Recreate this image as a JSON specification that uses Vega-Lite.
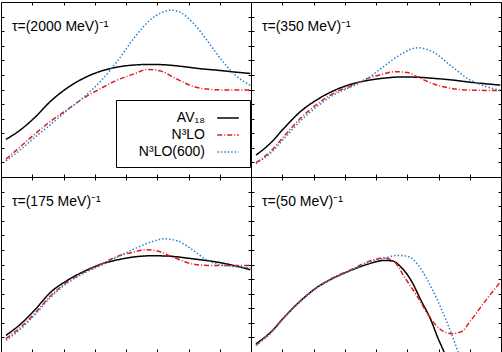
{
  "$schema": "https://vega.github.io/schema/vega-lite/v6.json",
  "background": "white",
  "padding": {"left": 0, "top": 1, "right": 2, "bottom": 1},
  "spacing": 0,
  "bounds": "flush",
  "columns": 2,
  "datasets": {
    "d": [
      {"p":1,"s":"AV₁₈","x":0.16,"y":1.29},{"p":1,"s":"AV₁₈","x":0.64,"y":1.63},{"p":1,"s":"AV₁₈","x":1.07,"y":2.03},{"p":1,"s":"AV₁₈","x":1.6,"y":2.61},{"p":1,"s":"AV₁₈","x":2.13,"y":3.06},{"p":1,"s":"AV₁₈","x":2.67,"y":3.4},{"p":1,"s":"AV₁₈","x":3.2,"y":3.63},{"p":1,"s":"AV₁₈","x":3.73,"y":3.77},{"p":1,"s":"AV₁₈","x":4.27,"y":3.84},{"p":1,"s":"AV₁₈","x":4.8,"y":3.86},{"p":1,"s":"AV₁₈","x":5.33,"y":3.84},{"p":1,"s":"AV₁₈","x":5.87,"y":3.78},{"p":1,"s":"AV₁₈","x":6.4,"y":3.71},{"p":1,"s":"AV₁₈","x":6.93,"y":3.66},{"p":1,"s":"AV₁₈","x":7.47,"y":3.6},{"p":1,"s":"AV₁₈","x":7.98,"y":3.55},
      {"p":1,"s":"N³LO","x":0.16,"y":0.61},{"p":1,"s":"N³LO","x":0.64,"y":1.06},{"p":1,"s":"N³LO","x":1.07,"y":1.46},{"p":1,"s":"N³LO","x":1.6,"y":1.92},{"p":1,"s":"N³LO","x":2.13,"y":2.32},{"p":1,"s":"N³LO","x":2.67,"y":2.72},{"p":1,"s":"N³LO","x":3.2,"y":3.04},{"p":1,"s":"N³LO","x":3.73,"y":3.33},{"p":1,"s":"N³LO","x":4.27,"y":3.54},{"p":1,"s":"N³LO","x":4.69,"y":3.69},{"p":1,"s":"N³LO","x":5.12,"y":3.63},{"p":1,"s":"N³LO","x":5.55,"y":3.4},{"p":1,"s":"N³LO","x":5.97,"y":3.18},{"p":1,"s":"N³LO","x":6.4,"y":3.04},{"p":1,"s":"N³LO","x":6.93,"y":2.99},{"p":1,"s":"N³LO","x":7.47,"y":2.98},{"p":1,"s":"N³LO","x":7.98,"y":2.98},
      {"p":1,"s":"N³LO(600)","x":0.16,"y":0.55},{"p":1,"s":"N³LO(600)","x":0.64,"y":0.95},{"p":1,"s":"N³LO(600)","x":1.07,"y":1.35},{"p":1,"s":"N³LO(600)","x":1.6,"y":1.81},{"p":1,"s":"N³LO(600)","x":2.13,"y":2.3},{"p":1,"s":"N³LO(600)","x":2.67,"y":2.76},{"p":1,"s":"N³LO(600)","x":3.2,"y":3.3},{"p":1,"s":"N³LO(600)","x":3.73,"y":3.98},{"p":1,"s":"N³LO(600)","x":4.27,"y":4.78},{"p":1,"s":"N³LO(600)","x":4.8,"y":5.41},{"p":1,"s":"N³LO(600)","x":5.12,"y":5.63},{"p":1,"s":"N³LO(600)","x":5.44,"y":5.72},{"p":1,"s":"N³LO(600)","x":5.76,"y":5.63},{"p":1,"s":"N³LO(600)","x":6.19,"y":5.23},{"p":1,"s":"N³LO(600)","x":6.61,"y":4.66},{"p":1,"s":"N³LO(600)","x":7.04,"y":4.04},{"p":1,"s":"N³LO(600)","x":7.47,"y":3.52},{"p":1,"s":"N³LO(600)","x":7.98,"y":3.14},

      {"p":2,"s":"AV₁₈","x":0.16,"y":0.75},{"p":2,"s":"AV₁₈","x":0.64,"y":1.18},{"p":2,"s":"AV₁₈","x":1.07,"y":1.69},{"p":2,"s":"AV₁₈","x":1.6,"y":2.26},{"p":2,"s":"AV₁₈","x":2.13,"y":2.66},{"p":2,"s":"AV₁₈","x":2.67,"y":2.97},{"p":2,"s":"AV₁₈","x":3.2,"y":3.18},{"p":2,"s":"AV₁₈","x":3.73,"y":3.31},{"p":2,"s":"AV₁₈","x":4.27,"y":3.39},{"p":2,"s":"AV₁₈","x":4.8,"y":3.43},{"p":2,"s":"AV₁₈","x":5.33,"y":3.42},{"p":2,"s":"AV₁₈","x":5.87,"y":3.38},{"p":2,"s":"AV₁₈","x":6.4,"y":3.33},{"p":2,"s":"AV₁₈","x":6.93,"y":3.26},{"p":2,"s":"AV₁₈","x":7.47,"y":3.2},{"p":2,"s":"AV₁₈","x":7.98,"y":3.15},
      {"p":2,"s":"N³LO","x":0.16,"y":0.49},{"p":2,"s":"N³LO","x":0.64,"y":0.89},{"p":2,"s":"N³LO","x":1.07,"y":1.41},{"p":2,"s":"N³LO","x":1.6,"y":2.03},{"p":2,"s":"N³LO","x":2.13,"y":2.51},{"p":2,"s":"N³LO","x":2.67,"y":2.89},{"p":2,"s":"N³LO","x":3.2,"y":3.12},{"p":2,"s":"N³LO","x":3.73,"y":3.38},{"p":2,"s":"N³LO","x":4.27,"y":3.54},{"p":2,"s":"N³LO","x":4.59,"y":3.61},{"p":2,"s":"N³LO","x":5.01,"y":3.58},{"p":2,"s":"N³LO","x":5.33,"y":3.43},{"p":2,"s":"N³LO","x":5.87,"y":3.18},{"p":2,"s":"N³LO","x":6.4,"y":3.04},{"p":2,"s":"N³LO","x":6.93,"y":2.98},{"p":2,"s":"N³LO","x":7.47,"y":2.97},{"p":2,"s":"N³LO","x":7.98,"y":2.97},
      {"p":2,"s":"N³LO(600)","x":0.16,"y":0.46},{"p":2,"s":"N³LO(600)","x":0.64,"y":0.83},{"p":2,"s":"N³LO(600)","x":1.07,"y":1.33},{"p":2,"s":"N³LO(600)","x":1.6,"y":1.94},{"p":2,"s":"N³LO(600)","x":2.13,"y":2.43},{"p":2,"s":"N³LO(600)","x":2.67,"y":2.83},{"p":2,"s":"N³LO(600)","x":3.2,"y":3.09},{"p":2,"s":"N³LO(600)","x":3.73,"y":3.38},{"p":2,"s":"N³LO(600)","x":4.27,"y":3.81},{"p":2,"s":"N³LO(600)","x":4.8,"y":4.21},{"p":2,"s":"N³LO(600)","x":5.33,"y":4.43},{"p":2,"s":"N³LO(600)","x":5.87,"y":4.26},{"p":2,"s":"N³LO(600)","x":6.4,"y":3.81},{"p":2,"s":"N³LO(600)","x":6.93,"y":3.38},{"p":2,"s":"N³LO(600)","x":7.47,"y":3.12},{"p":2,"s":"N³LO(600)","x":7.98,"y":2.97},

      {"p":3,"s":"AV₁₈","x":0.16,"y":0.57},{"p":3,"s":"AV₁₈","x":0.64,"y":0.97},{"p":3,"s":"AV₁₈","x":1.07,"y":1.43},{"p":3,"s":"AV₁₈","x":1.6,"y":2.06},{"p":3,"s":"AV₁₈","x":2.13,"y":2.46},{"p":3,"s":"AV₁₈","x":2.67,"y":2.77},{"p":3,"s":"AV₁₈","x":3.2,"y":3.01},{"p":3,"s":"AV₁₈","x":3.73,"y":3.16},{"p":3,"s":"AV₁₈","x":4.27,"y":3.26},{"p":3,"s":"AV₁₈","x":4.8,"y":3.3},{"p":3,"s":"AV₁₈","x":5.33,"y":3.29},{"p":3,"s":"AV₁₈","x":5.87,"y":3.23},{"p":3,"s":"AV₁₈","x":6.4,"y":3.16},{"p":3,"s":"AV₁₈","x":6.93,"y":3.08},{"p":3,"s":"AV₁₈","x":7.47,"y":2.96},{"p":3,"s":"AV₁₈","x":7.98,"y":2.82},
      {"p":3,"s":"N³LO","x":0.16,"y":0.46},{"p":3,"s":"N³LO","x":0.64,"y":0.86},{"p":3,"s":"N³LO","x":1.07,"y":1.31},{"p":3,"s":"N³LO","x":1.6,"y":1.94},{"p":3,"s":"N³LO","x":2.13,"y":2.4},{"p":3,"s":"N³LO","x":2.67,"y":2.74},{"p":3,"s":"N³LO","x":3.2,"y":3.01},{"p":3,"s":"N³LO","x":3.73,"y":3.28},{"p":3,"s":"N³LO","x":4.27,"y":3.43},{"p":3,"s":"N³LO","x":4.59,"y":3.51},{"p":3,"s":"N³LO","x":5.01,"y":3.46},{"p":3,"s":"N³LO","x":5.55,"y":3.23},{"p":3,"s":"N³LO","x":6.08,"y":3.03},{"p":3,"s":"N³LO","x":6.61,"y":2.97},{"p":3,"s":"N³LO","x":7.15,"y":2.97},{"p":3,"s":"N³LO","x":7.98,"y":2.97},
      {"p":3,"s":"N³LO(600)","x":0.16,"y":0.4},{"p":3,"s":"N³LO(600)","x":0.64,"y":0.8},{"p":3,"s":"N³LO(600)","x":1.07,"y":1.26},{"p":3,"s":"N³LO(600)","x":1.6,"y":1.89},{"p":3,"s":"N³LO(600)","x":2.13,"y":2.37},{"p":3,"s":"N³LO(600)","x":2.67,"y":2.71},{"p":3,"s":"N³LO(600)","x":3.2,"y":2.97},{"p":3,"s":"N³LO(600)","x":3.73,"y":3.26},{"p":3,"s":"N³LO(600)","x":4.27,"y":3.54},{"p":3,"s":"N³LO(600)","x":4.8,"y":3.77},{"p":3,"s":"N³LO(600)","x":5.23,"y":3.88},{"p":3,"s":"N³LO(600)","x":5.65,"y":3.81},{"p":3,"s":"N³LO(600)","x":6.08,"y":3.54},{"p":3,"s":"N³LO(600)","x":6.61,"y":3.14},{"p":3,"s":"N³LO(600)","x":7.15,"y":2.97},{"p":3,"s":"N³LO(600)","x":7.98,"y":2.89},

      {"p":4,"s":"AV₁₈","x":0.16,"y":0.28},{"p":4,"s":"AV₁₈","x":0.64,"y":0.69},{"p":4,"s":"AV₁₈","x":1.07,"y":1.2},{"p":4,"s":"AV₁₈","x":1.6,"y":1.77},{"p":4,"s":"AV₁₈","x":2.13,"y":2.23},{"p":4,"s":"AV₁₈","x":2.67,"y":2.55},{"p":4,"s":"AV₁₈","x":3.2,"y":2.8},{"p":4,"s":"AV₁₈","x":3.73,"y":3.01},{"p":4,"s":"AV₁₈","x":4.27,"y":3.14},{"p":4,"s":"AV₁₈","x":4.53,"y":3.12},{"p":4,"s":"AV₁₈","x":4.8,"y":2.91},{"p":4,"s":"AV₁₈","x":5.12,"y":2.46},{"p":4,"s":"AV₁₈","x":5.44,"y":1.77},{"p":4,"s":"AV₁₈","x":5.76,"y":1.09},{"p":4,"s":"AV₁₈","x":5.97,"y":0.51},{"p":4,"s":"AV₁₈","x":6.19,"y":-0.03},{"p":4,"s":"AV₁₈","x":6.4,"y":-0.6},
      {"p":4,"s":"N³LO","x":0.16,"y":0.23},{"p":4,"s":"N³LO","x":0.64,"y":0.69},{"p":4,"s":"N³LO","x":1.07,"y":1.2},{"p":4,"s":"N³LO","x":1.6,"y":1.77},{"p":4,"s":"N³LO","x":2.13,"y":2.23},{"p":4,"s":"N³LO","x":2.67,"y":2.57},{"p":4,"s":"N³LO","x":3.2,"y":2.82},{"p":4,"s":"N³LO","x":3.73,"y":3.09},{"p":4,"s":"N³LO","x":4.27,"y":3.22},{"p":4,"s":"N³LO","x":4.59,"y":3.09},{"p":4,"s":"N³LO","x":4.91,"y":2.57},{"p":4,"s":"N³LO","x":5.33,"y":1.89},{"p":4,"s":"N³LO","x":5.65,"y":1.31},{"p":4,"s":"N³LO","x":5.97,"y":0.86},{"p":4,"s":"N³LO","x":6.4,"y":0.63},{"p":4,"s":"N³LO","x":6.72,"y":0.69},{"p":4,"s":"N³LO","x":7.04,"y":1.09},{"p":4,"s":"N³LO","x":7.47,"y":1.71},{"p":4,"s":"N³LO","x":7.98,"y":2.4},
      {"p":4,"s":"N³LO(600)","x":0.16,"y":0.23},{"p":4,"s":"N³LO(600)","x":0.64,"y":0.65},{"p":4,"s":"N³LO(600)","x":1.07,"y":1.18},{"p":4,"s":"N³LO(600)","x":1.6,"y":1.75},{"p":4,"s":"N³LO(600)","x":2.13,"y":2.21},{"p":4,"s":"N³LO(600)","x":2.67,"y":2.55},{"p":4,"s":"N³LO(600)","x":3.2,"y":2.8},{"p":4,"s":"N³LO(600)","x":3.73,"y":3.05},{"p":4,"s":"N³LO(600)","x":4.27,"y":3.22},{"p":4,"s":"N³LO(600)","x":4.69,"y":3.31},{"p":4,"s":"N³LO(600)","x":5.01,"y":3.28},{"p":4,"s":"N³LO(600)","x":5.33,"y":3.01},{"p":4,"s":"N³LO(600)","x":5.65,"y":2.46},{"p":4,"s":"N³LO(600)","x":5.97,"y":1.77},{"p":4,"s":"N³LO(600)","x":6.29,"y":0.97},{"p":4,"s":"N³LO(600)","x":6.61,"y":0.06},{"p":4,"s":"N³LO(600)","x":6.8,"y":-0.5}
    ]
  },
  "data": {"name": "d"},
  "concat": [
    {
      "width": 250, "height": 175,
      "title": {"text": "τ=(2000 MeV)⁻¹"},
      "transform": [{"filter": "datum.p == 1"}],
      "layer": [
        {"mark": {"type": "line", "clip": true, "strokeWidth": 1.5, "interpolate": "monotone"},
         "encoding": {
           "x": {"field": "x", "type": "quantitative", "scale": {"domain": [0, 8], "nice": false}, "axis": {"orient": "bottom", "values": [1,2,3,4,5,6,7]}},
           "y": {"field": "y", "type": "quantitative", "scale": {"domain": [0, 6], "nice": false}, "axis": {"orient": "left", "values": [0.5,1,1.5,2,2.5,3,3.5,4,4.5,5,5.5]}},
           "color": {"field": "s", "type": "nominal", "scale": {"domain": ["AV₁₈","N³LO","N³LO(600)"], "range": ["black","#e31a1c","#2a82d0"]}, "legend": {}},
           "strokeDash": {"field": "s", "type": "nominal", "scale": {"domain": ["AV₁₈","N³LO","N³LO(600)"], "range": [[1,0],[5,2,1,2],[1.5,2]]}, "legend": {}}
         }},
        {"mark": {"type": "point", "opacity": 0},
         "encoding": {
           "x": {"field": "x", "type": "quantitative", "scale": {"domain": [0, 8], "nice": false}, "axis": {"orient": "top", "values": [1,2,3,4,5,6,7]}},
           "y": {"field": "y", "type": "quantitative", "scale": {"domain": [0, 6], "nice": false}, "axis": {"orient": "right", "values": [0.5,1,1.5,2,2.5,3,3.5,4,4.5,5,5.5]}}
         }}
      ],
      "resolve": {"axis": {"x": "independent", "y": "independent"}}
    },
    {
      "width": 250, "height": 175,
      "title": {"text": "τ=(350 MeV)⁻¹"},
      "transform": [{"filter": "datum.p == 2"}],
      "layer": [
        {"mark": {"type": "line", "clip": true, "strokeWidth": 1.5, "interpolate": "monotone"},
         "encoding": {
           "x": {"field": "x", "type": "quantitative", "scale": {"domain": [0, 8], "nice": false}, "axis": {"orient": "bottom", "values": [1,2,3,4,5,6,7]}},
           "y": {"field": "y", "type": "quantitative", "scale": {"domain": [0, 6], "nice": false}, "axis": {"orient": "left", "values": [0.5,1,1.5,2,2.5,3,3.5,4,4.5,5,5.5]}},
           "color": {"field": "s", "type": "nominal", "scale": {"domain": ["AV₁₈","N³LO","N³LO(600)"], "range": ["black","#e31a1c","#2a82d0"]}, "legend": null},
           "strokeDash": {"field": "s", "type": "nominal", "scale": {"domain": ["AV₁₈","N³LO","N³LO(600)"], "range": [[1,0],[5,2,1,2],[1.5,2]]}, "legend": null}
         }},
        {"mark": {"type": "point", "opacity": 0},
         "encoding": {
           "x": {"field": "x", "type": "quantitative", "scale": {"domain": [0, 8], "nice": false}, "axis": {"orient": "top", "values": [1,2,3,4,5,6,7]}},
           "y": {"field": "y", "type": "quantitative", "scale": {"domain": [0, 6], "nice": false}, "axis": {"orient": "right", "values": [0.5,1,1.5,2,2.5,3,3.5,4,4.5,5,5.5]}}
         }}
      ],
      "resolve": {"axis": {"x": "independent", "y": "independent"}}
    },
    {
      "width": 250, "height": 175,
      "title": {"text": "τ=(175 MeV)⁻¹"},
      "transform": [{"filter": "datum.p == 3"}],
      "layer": [
        {"mark": {"type": "line", "clip": true, "strokeWidth": 1.5, "interpolate": "monotone"},
         "encoding": {
           "x": {"field": "x", "type": "quantitative", "scale": {"domain": [0, 8], "nice": false}, "axis": {"orient": "bottom", "values": [1,2,3,4,5,6,7]}},
           "y": {"field": "y", "type": "quantitative", "scale": {"domain": [0, 6], "nice": false}, "axis": {"orient": "left", "values": [0.5,1,1.5,2,2.5,3,3.5,4,4.5,5,5.5]}},
           "color": {"field": "s", "type": "nominal", "scale": {"domain": ["AV₁₈","N³LO","N³LO(600)"], "range": ["black","#e31a1c","#2a82d0"]}, "legend": null},
           "strokeDash": {"field": "s", "type": "nominal", "scale": {"domain": ["AV₁₈","N³LO","N³LO(600)"], "range": [[1,0],[5,2,1,2],[1.5,2]]}, "legend": null}
         }},
        {"mark": {"type": "point", "opacity": 0},
         "encoding": {
           "x": {"field": "x", "type": "quantitative", "scale": {"domain": [0, 8], "nice": false}, "axis": {"orient": "top", "values": [1,2,3,4,5,6,7]}},
           "y": {"field": "y", "type": "quantitative", "scale": {"domain": [0, 6], "nice": false}, "axis": {"orient": "right", "values": [0.5,1,1.5,2,2.5,3,3.5,4,4.5,5,5.5]}}
         }}
      ],
      "resolve": {"axis": {"x": "independent", "y": "independent"}}
    },
    {
      "width": 250, "height": 175,
      "title": {"text": "τ=(50 MeV)⁻¹"},
      "transform": [{"filter": "datum.p == 4"}],
      "layer": [
        {"mark": {"type": "line", "clip": true, "strokeWidth": 1.5, "interpolate": "monotone"},
         "encoding": {
           "x": {"field": "x", "type": "quantitative", "scale": {"domain": [0, 8], "nice": false}, "axis": {"orient": "bottom", "values": [1,2,3,4,5,6,7]}},
           "y": {"field": "y", "type": "quantitative", "scale": {"domain": [0, 6], "nice": false}, "axis": {"orient": "left", "values": [0.5,1,1.5,2,2.5,3,3.5,4,4.5,5,5.5]}},
           "color": {"field": "s", "type": "nominal", "scale": {"domain": ["AV₁₈","N³LO","N³LO(600)"], "range": ["black","#e31a1c","#2a82d0"]}, "legend": null},
           "strokeDash": {"field": "s", "type": "nominal", "scale": {"domain": ["AV₁₈","N³LO","N³LO(600)"], "range": [[1,0],[5,2,1,2],[1.5,2]]}, "legend": null}
         }},
        {"mark": {"type": "point", "opacity": 0},
         "encoding": {
           "x": {"field": "x", "type": "quantitative", "scale": {"domain": [0, 8], "nice": false}, "axis": {"orient": "top", "values": [1,2,3,4,5,6,7]}},
           "y": {"field": "y", "type": "quantitative", "scale": {"domain": [0, 6], "nice": false}, "axis": {"orient": "right", "values": [0.5,1,1.5,2,2.5,3,3.5,4,4.5,5,5.5]}}
         }}
      ],
      "resolve": {"axis": {"x": "independent", "y": "independent"}}
    }
  ],
  "resolve": {"scale": {"color": "independent", "strokeDash": "independent"}},
  "config": {
    "view": {"stroke": "black", "strokeWidth": 1},
    "axis": {"domain": false, "labels": false, "grid": false, "ticks": true, "tickColor": "black", "tickWidth": 1, "tickSize": -3, "title": null},
    "title": {"anchor": "start", "frame": "group", "offset": -32, "dx": 11, "fontSize": 14, "fontWeight": "normal", "font": "Liberation Sans", "color": "black", "baseline": "alphabetic"},
    "legend": {"orient": "none", "legendX": 115, "legendY": 98, "title": null, "strokeColor": "black", "fillColor": "white", "padding": 8, "labelFont": "Liberation Sans", "labelFontSize": 14, "labelColor": "black", "labelAlign": "right", "labelOffset": -33, "symbolOffset": 94, "symbolType": "M-1.2,0H1.2", "symbolSize": 324, "symbolStrokeWidth": 1.5, "symbolFillColor": "transparent", "rowPadding": 0, "cornerRadius": 0}
  }
}
